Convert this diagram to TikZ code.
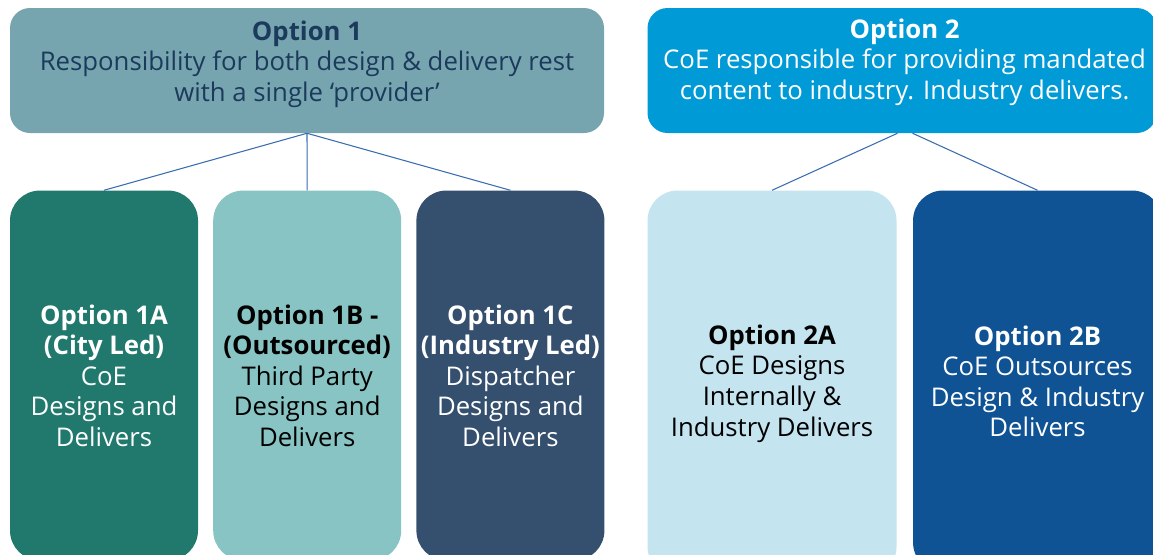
\documentclass[tikz,border=0pt]{standalone}
\usepackage{fontspec}
\setmainfont{Open Sans}
\usetikzlibrary{positioning,calc}

\definecolor{optonecol}{HTML}{76A5AF}
\definecolor{opttwocol}{HTML}{009AD7}
\definecolor{cityled}{HTML}{21796E}
\definecolor{outsourced}{HTML}{88C4C3}
\definecolor{industryled}{HTML}{354F6E}
\definecolor{internal}{HTML}{C4E4F0}
\definecolor{outsourcetwo}{HTML}{0F5394}
\definecolor{navytext}{HTML}{1B3A5C}
\definecolor{linkblue}{HTML}{3A6DB0}

\tikzset{
  optfont/.style={font=\fontsize{19.3}{22.9}\selectfont},
  topbox/.style={rectangle, rounded corners=15pt, minimum height=93.75pt, inner sep=0pt},
  subbox/.style={rectangle, rounded corners=22.5pt, minimum width=141pt, minimum height=277.5pt, inner sep=0pt, align=center, optfont},
  link/.style={draw=linkblue, line width=0.8pt}
}

\begin{document}
\begin{tikzpicture}[x=0.75pt, y=-0.75pt, node distance=11pt]
  \useasboundingbox (0,0) rectangle (1153,554);
  \clip (0,0) rectangle (1153,554);

  % top options
  \node[topbox, fill=optonecol, minimum width=445.5pt] (opt1) at (307,70.5) {};
  \node[topbox, fill=opttwocol, minimum width=381.75pt, right=32.25pt of opt1] (opt2) {};

  \node[optfont, align=center, text=navytext] (opt1txt) at ([yshift=4.9pt]opt1.center)
    {\textbf{Option 1}\\Responsibility for both design \& delivery rest\\with a single ‘provider’};
  \node[optfont, align=center, text=white] (opt2txt) at ([xshift=1.9pt, yshift=6.4pt]opt2.center)
    {\textbf{Option 2}\\CoE responsible for providing mandated\\content to industry. Industry delivers.};

  % sub options
  \node[subbox, fill=cityled, text=white, below=42.75pt of opt1.south west, anchor=north west] (opt1a)
    {\textbf{Option 1A}\\\textbf{(City Led)}\\CoE\\Designs and\\Delivers};
  \node[subbox, fill=outsourced, text=black, right=of opt1a] (opt1b)
    {\textbf{Option 1B -}\\\textbf{(Outsourced)}\\Third Party\\Designs and\\Delivers};
  \node[subbox, fill=industryled, text=white, right=of opt1b] (opt1c)
    {\textbf{Option 1C}\\\textbf{(Industry Led)}\\Dispatcher\\Designs and\\Delivers};

  \node[subbox, fill=internal, text=black, minimum width=186.75pt, minimum height=289.5pt,
        below=42.75pt of opt2.south west, anchor=north west] (opt2a)
    {\textbf{Option 2A}\\CoE Designs\\Internally \&\\Industry Delivers};
  \node[subbox, fill=outsourcetwo, text=white, minimum width=186.75pt, minimum height=286.5pt,
        right=12pt of opt2a.north east, anchor=north west] (opt2b)
    {\textbf{Option 2B}\\CoE Outsources\\Design \& Industry\\Delivers};

  % edges
  \draw[link] (opt1.south) -- (opt1a.north);
  \draw[link] (opt1.south) -- (opt1b.north);
  \draw[link] (opt1.south) -- (opt1c.north);
  \draw[link] ([xshift=-3.4pt]opt2.south) -- (opt2a.north);
  \draw[link] ([xshift=7.9pt]opt2.south) -- (opt2b.north);
\end{tikzpicture}
\end{document}
